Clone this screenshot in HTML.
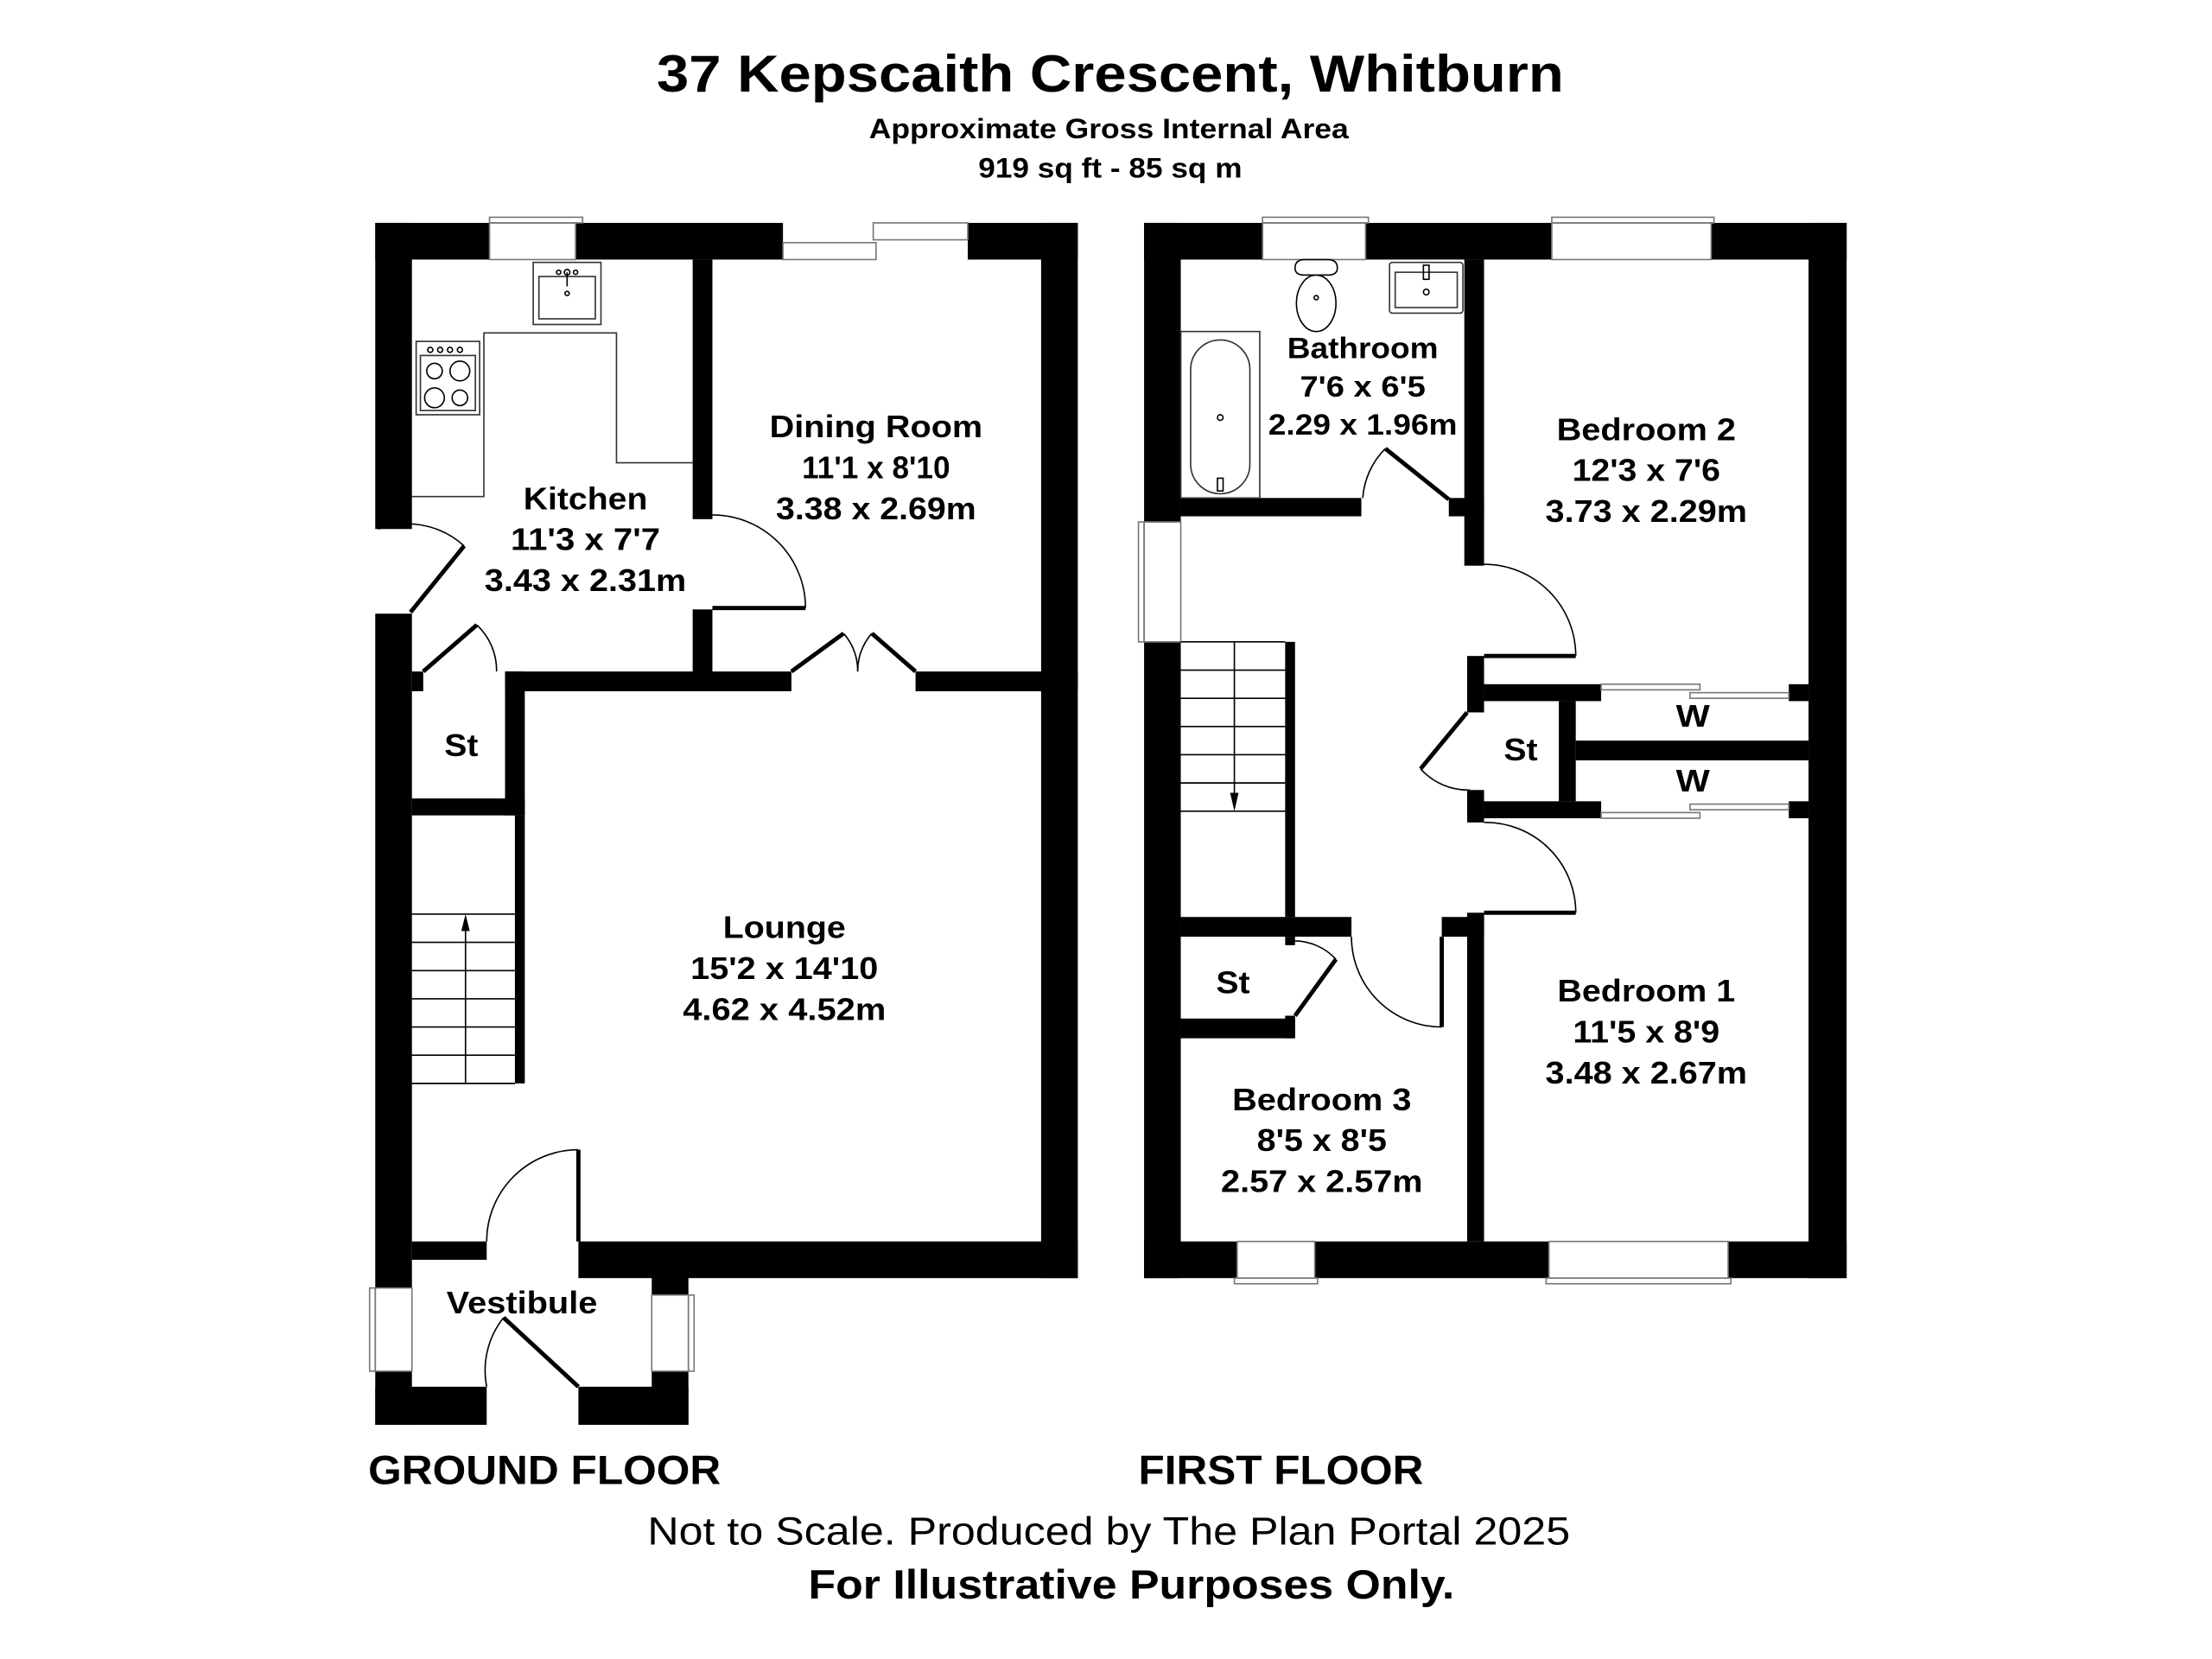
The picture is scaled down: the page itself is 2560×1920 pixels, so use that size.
<!DOCTYPE html>
<html><head><meta charset="utf-8"><style>
html,body{margin:0;padding:0;background:#fff;}
svg{display:block;}
text{font-family:"Liberation Sans",Arial,sans-serif;font-weight:bold;fill:#000;}
</style></head><body>
<svg width="2560" height="1920" viewBox="0 0 1568 1176" preserveAspectRatio="none" xmlns="http://www.w3.org/2000/svg">
<rect width="1568" height="1176" fill="#fff"/>
<!-- Titles -->
<text x="787" y="65" font-size="37" text-anchor="middle" textLength="643" lengthAdjust="spacingAndGlyphs">37 Kepscaith Crescent, Whitburn</text>
<text x="786" y="98" font-size="20" text-anchor="middle" textLength="340" lengthAdjust="spacingAndGlyphs">Approximate Gross Internal Area</text>
<text x="787" y="126" font-size="20" text-anchor="middle" textLength="187" lengthAdjust="spacingAndGlyphs">919 sq ft - 85 sq m</text>

<!-- GROUND FLOOR -->
<g fill="#000">
<rect x="266" y="158" width="81" height="26"/>
<rect x="408" y="158" width="147" height="26"/>
<rect x="686" y="158" width="78" height="26"/>
<rect x="266" y="158" width="26" height="217"/>
<rect x="266" y="435" width="26" height="478"/>
<rect x="266" y="972" width="26" height="38"/>
<rect x="738" y="158" width="26" height="748"/>
<rect x="410" y="880" width="354" height="26"/>
<rect x="292" y="880" width="53" height="13"/>
<rect x="462" y="893" width="26" height="25"/>
<rect x="462" y="972" width="26" height="38"/>
<rect x="266" y="983" width="79" height="27"/>
<rect x="410" y="983" width="78" height="27"/>
<rect x="491" y="184" width="14" height="184"/>
<rect x="491" y="432" width="14" height="58"/>
<rect x="358" y="476" width="203" height="14"/>
<rect x="649" y="476" width="115" height="14"/>
<rect x="292" y="476" width="8" height="14"/>
<rect x="358" y="476" width="14" height="102"/>
<rect x="292" y="566" width="80" height="12"/>
<rect x="365" y="578" width="7" height="190"/>
</g>
<g fill="none" stroke="#000" stroke-width="1">
<rect x="347" y="154" width="66" height="4" stroke="#777"/>
<rect x="347" y="158" width="61" height="26" stroke="#777"/>
<rect x="555" y="172" width="66" height="12" stroke="#777"/>
<rect x="619" y="158" width="67" height="12" stroke="#777"/>
<rect x="262" y="913" width="4" height="59" stroke="#777"/>
<rect x="266" y="913" width="26" height="59" stroke="#777"/>
<rect x="488" y="918" width="4" height="54" stroke="#777"/>
<rect x="462" y="918" width="26" height="54" stroke="#777"/>
<rect x="378" y="186" width="48" height="44" stroke="#333"/>
<rect x="382" y="196" width="40" height="30" stroke="#333"/>
<circle cx="402" cy="193" r="2"/><circle cx="396" cy="193" r="1.5"/><circle cx="408" cy="193" r="1.5"/>
<line x1="402" y1="193" x2="402" y2="203"/><circle cx="402" cy="208" r="1.5"/>
<polyline points="292,352 343,352 343,236 437,236 437,328 491,328" stroke="#333"/>
<rect x="295" y="242" width="45" height="52" stroke="#333"/>
<rect x="298" y="252" width="39" height="39" stroke="#333"/>
<circle cx="305" cy="248" r="1.8"/><circle cx="312" cy="248" r="1.8"/><circle cx="319" cy="248" r="1.8"/><circle cx="326" cy="248" r="1.8"/>
<circle cx="308" cy="263" r="5.5"/><circle cx="326" cy="263" r="7"/><circle cx="308" cy="282" r="7"/><circle cx="326" cy="282" r="5.5"/>
<line x1="292" y1="648" x2="365" y2="648"/><line x1="292" y1="668" x2="365" y2="668"/>
<line x1="292" y1="688" x2="365" y2="688"/><line x1="292" y1="708" x2="365" y2="708"/>
<line x1="292" y1="728" x2="365" y2="728"/><line x1="292" y1="748" x2="365" y2="748"/>
<line x1="292" y1="768" x2="365" y2="768"/>
<line x1="330" y1="768" x2="330" y2="656"/>
<path d="M329,387 A60,60 0 0 0 268,375"/>
<path d="M571,431 A66,66 0 0 0 505,365"/>
<path d="M338,443 A44,44 0 0 1 352,476"/>
<path d="M598,449 A40,40 0 0 1 608,476"/>
<path d="M618,449 A40,40 0 0 0 608,476"/>
<path d="M410,815 A65,65 0 0 0 345,880"/>
<path d="M357,934 A60,60 0 0 0 345,983"/>
</g>
<polygon points="330,648 327,660 333,660" fill="#000"/>
<g stroke="#000" stroke-width="3" fill="none">
<line x1="291" y1="434" x2="329" y2="387"/>
<line x1="505" y1="431" x2="571" y2="431"/>
<line x1="300" y1="476" x2="338" y2="443"/>
<line x1="561" y1="476" x2="598" y2="449"/>
<line x1="649" y1="476" x2="618" y2="449"/>
<line x1="410" y1="880" x2="410" y2="815"/>
<line x1="410" y1="983" x2="357" y2="934"/>
</g>
<text x="415" y="361" font-size="22" text-anchor="middle" textLength="88" lengthAdjust="spacingAndGlyphs">Kitchen</text>
<text x="415" y="390" font-size="22" text-anchor="middle" textLength="106" lengthAdjust="spacingAndGlyphs">11'3 x 7'7</text>
<text x="415" y="419" font-size="22" text-anchor="middle" textLength="143" lengthAdjust="spacingAndGlyphs">3.43 x 2.31m</text>
<text x="621" y="310" font-size="22" text-anchor="middle" textLength="151" lengthAdjust="spacingAndGlyphs">Dining Room</text>
<text x="621" y="339" font-size="22" text-anchor="middle" textLength="105" lengthAdjust="spacingAndGlyphs">11'1 x 8'10</text>
<text x="621" y="368" font-size="22" text-anchor="middle" textLength="142" lengthAdjust="spacingAndGlyphs">3.38 x 2.69m</text>
<text x="556" y="665" font-size="22" text-anchor="middle" textLength="87" lengthAdjust="spacingAndGlyphs">Lounge</text>
<text x="556" y="694" font-size="22" text-anchor="middle" textLength="133" lengthAdjust="spacingAndGlyphs">15'2 x 14'10</text>
<text x="556" y="723" font-size="22" text-anchor="middle" textLength="144" lengthAdjust="spacingAndGlyphs">4.62 x 4.52m</text>
<text x="327" y="536" font-size="22" text-anchor="middle" textLength="24" lengthAdjust="spacingAndGlyphs">St</text>
<text x="370" y="931" font-size="22" text-anchor="middle" textLength="107" lengthAdjust="spacingAndGlyphs">Vestibule</text>

<!-- FIRST FLOOR -->
<g>
<g fill="#000">
<rect x="811" y="158" width="84" height="26"/>
<rect x="968" y="158" width="132" height="26"/>
<rect x="1213" y="158" width="96" height="26"/>
<rect x="811" y="158" width="26" height="212"/>
<rect x="811" y="455" width="26" height="451"/>
<rect x="1282" y="158" width="27" height="748"/>
<rect x="811" y="880" width="66" height="26"/>
<rect x="932" y="880" width="166" height="26"/>
<rect x="1225" y="880" width="84" height="26"/>
<rect x="1038" y="184" width="14" height="217"/>
<rect x="837" y="353" width="128" height="13"/>
<rect x="1027" y="353" width="25" height="13"/>
<rect x="1040" y="465" width="12" height="40"/>
<rect x="1040" y="560" width="12" height="23"/>
<rect x="1052" y="485" width="83" height="12"/>
<rect x="1268" y="485" width="14" height="12"/>
<rect x="1052" y="568" width="83" height="12"/>
<rect x="1268" y="568" width="14" height="12"/>
<rect x="1105" y="497" width="12" height="71"/>
<rect x="1117" y="525" width="165" height="14"/>
<rect x="1040" y="647" width="12" height="233"/>
<rect x="1022" y="650" width="30" height="14"/>
<rect x="837" y="650" width="121" height="14"/>
<rect x="911" y="455" width="7" height="195"/>
<rect x="911" y="664" width="7" height="6"/>
<rect x="911" y="720" width="7" height="16"/>
<rect x="837" y="722" width="81" height="14"/>
</g>
<g fill="none" stroke="#000" stroke-width="1">
<rect x="895" y="154" width="75" height="4" stroke="#777"/>
<rect x="895" y="158" width="73" height="26" stroke="#777"/>
<rect x="1100" y="154" width="115" height="4" stroke="#777"/>
<rect x="1100" y="158" width="113" height="26" stroke="#777"/>
<rect x="807" y="370" width="4" height="85" stroke="#777"/>
<rect x="811" y="370" width="26" height="85" stroke="#777"/>
<rect x="877" y="880" width="55" height="26" stroke="#777"/>
<rect x="875" y="906" width="59" height="4" stroke="#777"/>
<rect x="1098" y="880" width="127" height="26" stroke="#777"/>
<rect x="1096" y="906" width="131" height="4" stroke="#777"/>
<rect x="1135" y="485" width="70" height="4" stroke="#777"/>
<rect x="1198" y="491" width="70" height="4" stroke="#777"/>
<rect x="1135" y="576" width="70" height="4" stroke="#777"/>
<rect x="1198" y="570" width="70" height="4" stroke="#777"/>
<rect x="837" y="235" width="56" height="118" stroke="#333"/>
<rect x="844" y="241" width="42" height="109" rx="21" ry="21" stroke="#333"/>
<circle cx="865" cy="296" r="2"/>
<rect x="863" y="339" width="4" height="9"/>
<path d="M918,190 Q918,184 925,184 L941,184 Q948,184 948,190 Q948,195 941,195 L925,195 Q918,195 918,190 Z"/>
<ellipse cx="933" cy="215" rx="14" ry="20"/>
<circle cx="933" cy="211" r="1.5"/>
<rect x="985" y="186" width="52" height="36" rx="2" stroke="#333"/>
<rect x="989" y="193" width="44" height="25" stroke="#333"/>
<rect x="1009" y="188" width="4" height="10"/><circle cx="1011" cy="207" r="2"/>
<line x1="837" y1="455" x2="911" y2="455"/><line x1="837" y1="475" x2="911" y2="475"/>
<line x1="837" y1="495" x2="911" y2="495"/><line x1="837" y1="515" x2="911" y2="515"/>
<line x1="837" y1="535" x2="911" y2="535"/><line x1="837" y1="555" x2="911" y2="555"/>
<line x1="837" y1="575" x2="911" y2="575"/>
<line x1="875" y1="455" x2="875" y2="565"/>
<path d="M982,318 A55,55 0 0 0 966,353"/>
<path d="M1117,465 A65,65 0 0 0 1052,400"/>
<path d="M1007,545 A45,45 0 0 0 1042,560"/>
<path d="M1117,647 A64,64 0 0 0 1052,583"/>
<path d="M958,664 A64,64 0 0 0 1022,728"/>
<path d="M947,680 A40,40 0 0 0 918,667"/>
</g>
<polygon points="875,575 872,562 878,562" fill="#000"/>
<g stroke="#000" stroke-width="3" fill="none">
<line x1="1027" y1="354" x2="982" y2="318"/>
<line x1="1052" y1="465" x2="1117" y2="465"/>
<line x1="1040" y1="505" x2="1007" y2="545"/>
<line x1="1052" y1="647" x2="1117" y2="647"/>
<line x1="1022" y1="664" x2="1022" y2="728"/>
<line x1="918" y1="720" x2="947" y2="680"/>
</g>
<text x="966" y="254" font-size="21" text-anchor="middle" textLength="107" lengthAdjust="spacingAndGlyphs">Bathroom</text>
<text x="966" y="281" font-size="21" text-anchor="middle" textLength="89" lengthAdjust="spacingAndGlyphs">7'6 x 6'5</text>
<text x="966" y="308" font-size="21" text-anchor="middle" textLength="134" lengthAdjust="spacingAndGlyphs">2.29 x 1.96m</text>
<text x="1167" y="312" font-size="22" text-anchor="middle" textLength="127" lengthAdjust="spacingAndGlyphs">Bedroom 2</text>
<text x="1167" y="341" font-size="22" text-anchor="middle" textLength="105" lengthAdjust="spacingAndGlyphs">12'3 x 7'6</text>
<text x="1167" y="370" font-size="22" text-anchor="middle" textLength="143" lengthAdjust="spacingAndGlyphs">3.73 x 2.29m</text>
<text x="1078" y="539" font-size="22" text-anchor="middle" textLength="24" lengthAdjust="spacingAndGlyphs">St</text>
<text x="1200" y="515" font-size="22" text-anchor="middle" textLength="24" lengthAdjust="spacingAndGlyphs">W</text>
<text x="1200" y="561" font-size="22" text-anchor="middle" textLength="24" lengthAdjust="spacingAndGlyphs">W</text>
<text x="874" y="704" font-size="22" text-anchor="middle" textLength="24" lengthAdjust="spacingAndGlyphs">St</text>
<text x="1167" y="710" font-size="22" text-anchor="middle" textLength="126" lengthAdjust="spacingAndGlyphs">Bedroom 1</text>
<text x="1167" y="739" font-size="22" text-anchor="middle" textLength="104" lengthAdjust="spacingAndGlyphs">11'5 x 8'9</text>
<text x="1167" y="768" font-size="22" text-anchor="middle" textLength="143" lengthAdjust="spacingAndGlyphs">3.48 x 2.67m</text>
<text x="937" y="787" font-size="22" text-anchor="middle" textLength="127" lengthAdjust="spacingAndGlyphs">Bedroom 3</text>
<text x="937" y="816" font-size="22" text-anchor="middle" textLength="92" lengthAdjust="spacingAndGlyphs">8'5 x 8'5</text>
<text x="937" y="845" font-size="22" text-anchor="middle" textLength="143" lengthAdjust="spacingAndGlyphs">2.57 x 2.57m</text>
</g>

<text x="261" y="1052" font-size="29" textLength="250" lengthAdjust="spacingAndGlyphs">GROUND FLOOR</text>
<text x="807" y="1052" font-size="29" textLength="202" lengthAdjust="spacingAndGlyphs">FIRST FLOOR</text>
<text x="786" y="1095" font-size="28" style="font-weight:normal" text-anchor="middle" textLength="654" lengthAdjust="spacingAndGlyphs">Not to Scale. Produced by The Plan Portal 2025</text>
<text x="802" y="1133" font-size="29" text-anchor="middle" textLength="458" lengthAdjust="spacingAndGlyphs">For Illustrative Purposes Only.</text>
</svg>
</body></html>
